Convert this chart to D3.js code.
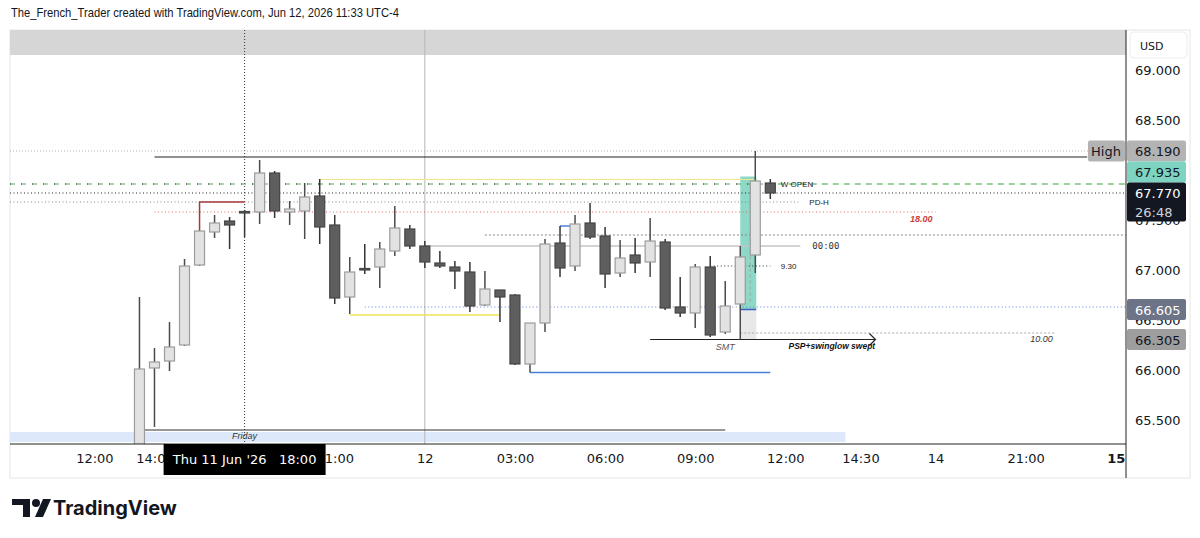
<!DOCTYPE html>
<html>
<head>
<meta charset="utf-8">
<script src="https://cdn.jsdelivr.net/npm/d3@7"></script>
<style>
  body { margin: 0; background: #fff; }
  svg { display: block; }
</style>
</head>
<body>
<svg id="chart" width="1200" height="538"></svg>
<script>
// 30 min candles, Thu 11 Jun 13:30 -> Fri 12 Jun 11:30 (slot 0 = Thu 12:00)
const firstSlot = 3
const times = ["13:30","14:00","14:30","15:00","15:30","16:00","16:30",
  "18:00","18:30","19:00","19:30","20:00","20:30","21:00","21:30","22:00","22:30","23:00","23:30",
  "00:00","00:30","01:00","01:30","02:00","02:30","03:00","03:30","04:00","04:30","05:00","05:30",
  "06:00","06:30","07:00","07:30","08:00","08:30","09:00","09:30","10:00","10:30","11:00","11:30"]
const opens = [65.15,66.02,66.09,66.25,67.05,67.38,67.49,67.585,67.58,67.97,67.58,67.59,67.74,67.45,66.73,67.015,
  67.03,67.19,67.41,67.24,67.07,67.03,66.98,66.65,66.80,66.75,66.06,66.47,67.27,67.04,67.47,67.34,66.97,67.15,
  67.08,67.28,66.63,66.57,67.03,66.38,66.66,67.15,67.87]
const highs = [66.73,66.22,66.48,67.11,67.40,67.55,67.53,67.60,68.10,67.99,67.69,67.87,67.91,67.55,67.13,67.26,
  67.28,67.64,67.45,67.29,67.19,67.09,67.08,66.99,66.80,66.76,66.47,67.31,67.44,67.55,67.67,67.43,67.30,67.32,
  67.52,67.31,66.93,67.06,67.14,66.89,67.24,68.19,67.91]
const lows = [65.05,65.43,65.99,66.24,67.04,67.32,67.21,67.33,67.46,67.52,67.45,67.31,67.26,66.66,66.56,66.96,
  66.82,67.14,67.21,67.02,67.02,66.81,66.58,66.64,66.48,66.05,65.975,66.38,66.93,66.99,67.31,66.82,66.93,66.97,
  66.93,66.60,66.53,66.42,66.33,66.36,66.305,66.97,67.71]
const closes = [66.01,66.08,66.23,67.04,67.39,67.47,67.45,67.58,67.97,67.59,67.61,67.73,67.43,66.72,66.98,67.005,
  67.21,67.42,67.24,67.08,67.04,66.99,66.64,66.81,66.73,66.06,66.47,67.26,67.02,67.46,67.33,66.96,67.12,67.07,
  67.29,66.62,66.57,67.03,66.35,66.64,67.13,67.89,67.77]

const yTicks = [65.5, 66, 66.5, 67, 67.5, 68, 68.5, 69]
const xTickSlots = [0, 4, 16, 22, 28, 34, 40, 46, 51, 56, 62, 68]
const xTickLabels = ["12:00","14:00","21:00","12","03:00","06:00","09:00","12:00","14:30","14","21:00","15"]

// drawn levels: price, from slot, to slot (null = chart edge)
const levels = [
  { id: "highDot",  p: 68.19,  a: null, b: null },
  { id: "rangeTop", p: 68.13,  a: 4,    b: 66.1 },
  { id: "sweep",    p: 67.905, a: 15,   b: 44 },
  { id: "wopen",    p: 67.86,  a: 45.5, b: null },
  { id: "wopenL",   p: 67.86,  a: null, b: 45 },
  { id: "wopenDot", p: 67.86,  a: null, b: 45 },
  { id: "last",     p: 67.77,  a: null, b: null },
  { id: "pdh",      p: 67.68,  a: null, b: 47 },
  { id: "open18",   p: 67.58,  a: 4,    b: 56 },
  { id: "smallHi",  p: 67.44,  a: 31,   b: 32 },
  { id: "eq",       p: 67.35,  a: 26,   b: null },
  { id: "midnight", p: 67.24,  a: 22,   b: 47 },
  { id: "ny930",    p: 67.04,  a: 41,   b: 45 },
  { id: "lowDot",   p: 66.63,  a: 18,   b: null },
  { id: "asiaLow",  p: 66.55,  a: 17,   b: 27 },
  { id: "ten",      p: 66.37,  a: 43,   b: 64 },
  { id: "smt",      p: 66.305, a: 37,   b: 52 },
  { id: "swingLow", p: 65.975, a: 29,   b: 45 },
  { id: "friday",   p: 65.40,  a: 3.3,  b: 42 }
]
const levelText = [
  { text: "W OPEN", slot: 45.7, p: 67.86 },
  { text: "PD-H", slot: 47.6, p: 67.68 },
  { text: "00:00", slot: 47.8, p: 67.24 },
  { text: "9.30", slot: 45.7, p: 67.04 },
  { text: "18.00", slot: 55.8, p: 67.51 },
  { text: "10.00", slot: 63.8, p: 66.31 },
  { text: "SMT", slot: 42.0, p: 66.23 },
  { text: "PSP+swinglow swept", slot: 49.1, p: 66.24 },
  { text: "Friday", slot: 10, p: 65.34 }
]
// price scale labels
const priceLabels = [
  { v: 68.19, text: "68.190" },
  { v: 67.935, text: "67.935" },
  { v: 67.77, text: "67.770", sub: "26:48" },
  { v: 66.605, text: "66.605" },
  { v: 66.305, text: "66.305" }
]
const posTop = 67.935, posStop = 66.605, posLow = 66.305

const svg = d3.select("#chart")
const plot = { left: 10, right: 1126, top: 30, bottom: 444 }
const x = d3.scaleLinear().domain([0, 45]).range([94.4, 770.3])
const y = d3.scaleLinear().domain([65.5, 69]).range([420, 70])
const axisFont = "DejaVu Sans, sans-serif"

svg.append("rect").attr("width", 1200).attr("height", 538).attr("fill", "#fff")

svg.append("text").attr("x", 11).attr("y", 17)
  .attr("font-family", "Liberation Sans, sans-serif").attr("font-size", 13).attr("fill", "#131722")
  .attr("textLength", 388).attr("lengthAdjust", "spacingAndGlyphs")
  .text("The_French_Trader created with TradingView.com, Jun 12, 2026 11:33 UTC-4")

// outer frame
svg.append("rect").attr("x", plot.left).attr("y", plot.top)
  .attr("width", 1190 - plot.left).attr("height", 478 - plot.top)
  .attr("fill", "none").attr("stroke", "#e6e6e6")

svg.append("defs").append("clipPath").attr("id", "clip")
  .append("rect").attr("x", plot.left).attr("y", plot.top)
  .attr("width", plot.right - plot.left).attr("height", plot.bottom - plot.top)

const g = svg.append("g").attr("clip-path", "url(#clip)")

g.append("rect").attr("x", plot.left).attr("y", plot.top)
  .attr("width", plot.right - plot.left).attr("height", 25).attr("fill", "#d6d6d6")

// friday band
g.append("rect").attr("x", plot.left).attr("y", y(65.38))
  .attr("width", x(50) - plot.left).attr("height", y(65.28) - y(65.38)).attr("fill", "#dde9fb")

// vertical session line + crosshair
g.append("line").attr("x1", x(22)).attr("x2", x(22)).attr("y1", plot.top).attr("y2", plot.bottom)
  .attr("stroke", "#b5b5b5")
g.append("line").attr("x1", x(10)).attr("x2", x(10)).attr("y1", plot.top).attr("y2", plot.bottom)
  .attr("stroke", "#333").attr("stroke-dasharray", "1,2")

// position tool
const px0 = x(43), px1 = x(44) + 1
g.append("rect").attr("x", px0).attr("y", y(posTop)).attr("width", px1 - px0)
  .attr("height", y(posStop) - y(posTop)).attr("fill", "#8ed8c7")
g.append("rect").attr("x", px0).attr("y", y(posStop)).attr("width", px1 - px0)
  .attr("height", y(posLow) - y(posStop)).attr("fill", "#e8e8e8")
g.append("line").attr("x1", px0).attr("x2", px1).attr("y1", y(posStop)).attr("y2", y(posStop))
  .attr("stroke", "#3f5fc0").attr("stroke-width", 1.5)
g.append("line").attr("x1", (px0 + px1) / 2 + 2).attr("x2", (px0 + px1) / 2 + 2)
  .attr("y1", y(posTop) + 8).attr("y2", y(posStop) - 8)
  .attr("stroke", "#9aa8a4").attr("stroke-dasharray", "3,3")

const lineStyle = {
  highDot:  { c: "#b0b0b0", w: 1, d: "1,2" },
  rangeTop: { c: "#222", w: 1.2 },
  sweep:    { c: "#f2e58a", w: 1.2 },
  wopen:    { c: "#78c27b", w: 1.5, d: "6,5" },
  wopenL:   { c: "#5aa55e", w: 1, d: "5,6" },
  wopenDot: { c: "#333", w: 1, d: "1,10" },
  last:     { c: "#222", w: 1, d: "1,2.5" },
  pdh:      { c: "#888", w: 1, d: "1,2.5" },
  open18:   { c: "#e06666", w: 1, d: "1,2.5" },
  smallHi:  { c: "#4a7fd8", w: 1.5 },
  eq:       { c: "#888", w: 1, d: "2,2" },
  midnight: { c: "#c4c4c4", w: 1.5 },
  ny930:    { c: "#333", w: 1, d: "1,2.5" },
  lowDot:   { c: "#5b80d8", w: 1, d: "1,2.5" },
  asiaLow:  { c: "#f3e35a", w: 1.5 },
  ten:      { c: "#aaa", w: 1, d: "2,2" },
  smt:      { c: "#222", w: 1.2 },
  swingLow: { c: "#4a7fd8", w: 1.5 },
  friday:   { c: "#333", w: 1.2 }
}
g.selectAll("line.level").data(levels).enter().append("line").attr("class", "level")
  .attr("x1", d => d.a === null ? plot.left : x(d.a))
  .attr("x2", d => d.b === null ? plot.right : x(d.b))
  .attr("y1", d => y(d.p)).attr("y2", d => y(d.p))
  .attr("stroke", d => lineStyle[d.id].c)
  .attr("stroke-width", d => lineStyle[d.id].w)
  .attr("stroke-dasharray", d => lineStyle[d.id].d || null)

// maroon PD level drawing
g.append("path")
  .attr("d", `M${x(7)},${y(67.40)}V${y(67.68)}H${x(10)}`)
  .attr("fill", "none").attr("stroke", "#a33a3a").attr("stroke-width", 1.5)

// smt arrow head
const ax = x(52), ay = y(66.305)
g.append("path").attr("d", `M${ax - 6},${ay - 6}L${ax},${ay}L${ax - 6},${ay + 6}`)
  .attr("fill", "none").attr("stroke", "#222").attr("stroke-width", 1.2)

// candles
const candles = times.map((t, i) => ({ slot: firstSlot + i, o: opens[i], h: highs[i], l: lows[i], c: closes[i] }))
const bw = 10
const cg = g.selectAll("g.candle").data(candles).enter().append("g").attr("class", "candle")
cg.append("line")
  .attr("x1", d => x(d.slot)).attr("x2", d => x(d.slot))
  .attr("y1", d => y(d.h)).attr("y2", d => y(d.l))
  .attr("stroke", d => d.c >= d.o ? "#4a4a4a" : "#333").attr("stroke-width", 1.5)
cg.append("rect")
  .attr("x", d => x(d.slot) - bw / 2)
  .attr("y", d => y(Math.max(d.o, d.c)))
  .attr("width", bw)
  .attr("height", d => Math.max(1.5, Math.abs(y(d.o) - y(d.c))))
  .attr("fill", d => d.c >= d.o ? "#e2e2e2" : "#5e5e5e")
  .attr("stroke", d => d.c >= d.o ? "#9c9c9c" : "#454545")
  .attr("stroke-width", 1.2)

// annotation texts
const textStyle = {
  "W OPEN": { f: 8, c: "#222", a: "start" },
  "PD-H": { f: 8, c: "#222", a: "start" },
  "00:00": { f: 9, c: "#333", a: "start", m: true },
  "9.30": { f: 8, c: "#222", a: "start" },
  "18.00": { f: 9, c: "#c93c3c", a: "end", i: true },
  "10.00": { f: 9, c: "#333", a: "end", i: true },
  "SMT": { f: 9, c: "#555", a: "middle", i: true },
  "PSP+swinglow swept": { f: 8.5, c: "#111", a: "middle", i: true },
  "Friday": { f: 9, c: "#333", a: "middle", i: true }
}
g.selectAll("text.note").data(levelText).enter().append("text").attr("class", "note")
  .attr("x", d => x(d.slot)).attr("y", d => y(d.p)).attr("dy", "0.35em")
  .attr("font-family", d => textStyle[d.text].m ? "DejaVu Sans Mono, monospace" : "Liberation Sans, sans-serif")
  .attr("font-size", d => textStyle[d.text].f)
  .attr("font-style", d => textStyle[d.text].i ? "italic" : "normal")
  .attr("font-weight", d => d.text === "PSP+swinglow swept" || d.text === "18.00" ? "bold" : "normal")
  .attr("text-anchor", d => textStyle[d.text].a)
  .attr("fill", d => textStyle[d.text].c)
  .text(d => d.text)

// axes
svg.append("line").attr("x1", plot.left).attr("x2", plot.right).attr("y1", plot.bottom).attr("y2", plot.bottom)
  .attr("stroke", "#222")
svg.append("line").attr("x1", plot.right).attr("x2", plot.right).attr("y1", plot.top).attr("y2", 478)
  .attr("stroke", "#222")

const yAxis = svg.append("g").attr("transform", `translate(${plot.right},0)`)
  .call(d3.axisRight(y).tickValues(yTicks).tickFormat(d3.format(".3f")).tickSize(0).tickPadding(9))
yAxis.select(".domain").remove()
yAxis.selectAll("text").attr("font-family", axisFont).attr("font-size", 13).attr("fill", "#131722")

const xAxis = svg.append("g").attr("transform", `translate(0,${plot.bottom})`)
  .call(d3.axisBottom(x).tickValues(xTickSlots).tickFormat((d, i) => xTickLabels[i]).tickSize(0).tickPadding(10))
xAxis.select(".domain").remove()
xAxis.selectAll("text").attr("font-family", axisFont).attr("font-size", 13).attr("fill", "#131722")
  .attr("font-weight", (d, i) => xTickLabels[i] === "15" ? "bold" : "normal")

// USD box
svg.append("rect").attr("x", 1130).attr("y", 32).attr("width", 57).attr("height", 26).attr("rx", 4)
  .attr("fill", "#fff").attr("stroke", "#ececec")
svg.append("text").attr("x", 1140).attr("y", 50).attr("font-family", axisFont).attr("font-size", 11)
  .attr("fill", "#131722").text("USD")

// price labels with simple collision push-up
const boxStyle = [
  { fill: "#b3b3b3", color: "#131722" },
  { fill: "#7fd3c1", color: "#131722" },
  { fill: "#131722", color: "#fff" },
  { fill: "#6d7488", color: "#fff" },
  { fill: "#9e9e9e", color: "#131722" }
]
const boxes = priceLabels.map(d => {
  const h = d.sub ? 39 : 21
  return { ...d, h, top: y(d.v) - 10.5 }
})
for (let i = boxes.length - 2; i >= 0; i--) {
  const below = boxes[i + 1]
  if (boxes[i].top + boxes[i].h > below.top) boxes[i].top = below.top - boxes[i].h
}
boxes.forEach((b, i) => {
  const s = boxStyle[i]
  svg.append("rect").attr("x", plot.right + 1).attr("y", b.top).attr("width", 59).attr("height", b.h)
    .attr("rx", 2).attr("fill", s.fill)
  svg.append("text").attr("x", plot.right + 9).attr("y", b.top + 15.5)
    .attr("font-family", axisFont).attr("font-size", 13).attr("fill", s.color).text(b.text)
  if (b.sub) {
    svg.append("text").attr("x", plot.right + 9).attr("y", b.top + 34)
      .attr("font-family", axisFont).attr("font-size", 13).attr("fill", "#d1d4dc").text(b.sub)
  }
})

// "High" label on the chart side
svg.append("rect").attr("x", 1088).attr("y", y(68.19) - 10.5).attr("width", 37).attr("height", 21)
  .attr("rx", 2).attr("fill", "#b3b3b3")
svg.append("text").attr("x", 1106).attr("y", y(68.19) + 5).attr("text-anchor", "middle")
  .attr("font-family", axisFont).attr("font-size", 13).attr("fill", "#131722").text("High")

// crosshair time tooltip
const tipX = x(10)
svg.append("rect").attr("x", tipX - 81).attr("y", plot.bottom).attr("width", 162).attr("height", 31)
  .attr("fill", "#000")
svg.append("text").attr("x", tipX).attr("y", plot.bottom + 20).attr("text-anchor", "middle")
  .attr("font-family", axisFont).attr("font-size", 13).attr("fill", "#fff")
  .attr("xml:space", "preserve").text("Thu 11 Jun '26   18:00")

// TradingView logo
const logo = svg.append("g").attr("transform", "translate(12,499)")
logo.append("path").attr("d", "M0,0H18V18H11V6H0Z").attr("fill", "#131722")
logo.append("circle").attr("cx", 24).attr("cy", 4).attr("r", 4).attr("fill", "#131722")
logo.append("path").attr("d", "M31,0H39L31,18H23Z").attr("fill", "#131722")
svg.append("text").attr("x", 53).attr("y", 515)
  .attr("font-family", "Inter, Liberation Sans, sans-serif").attr("font-weight", 700).attr("font-size", 20)
  .attr("fill", "#131722").text("TradingView")
</script>
</body>
</html>
